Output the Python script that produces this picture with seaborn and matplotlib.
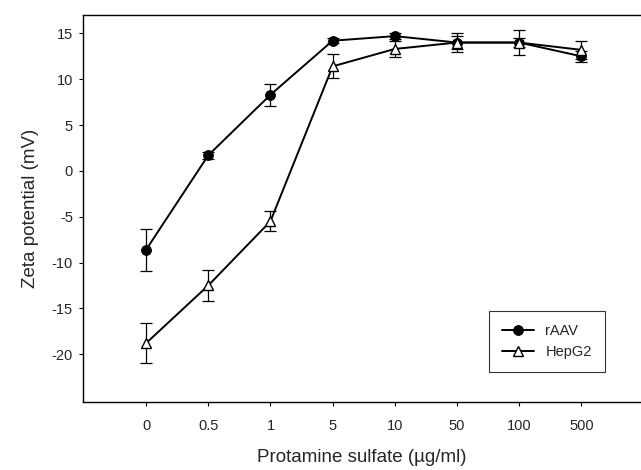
import numpy as np
import pandas as pd
import seaborn as sns
import matplotlib
matplotlib.use("Agg")
import matplotlib.pyplot as plt

# Protamine sulfate concentrations (categorical axis)
conc_labels = ["0", "0.5", "1", "5", "10", "50", "100", "500"]

# Zeta potential (mV) and error bars
raav_mean = [-8.6, 1.7, 8.3, 14.2, 14.7, 14.0, 14.0, 12.5]
raav_err = [2.3, 0.4, 1.2, 0.3, 0.3, 0.7, 0.5, 0.6]
hepg2_mean = [-18.8, -12.5, -5.5, 11.4, 13.3, 14.0, 14.0, 13.2]
hepg2_err = [2.2, 1.7, 1.1, 1.3, 0.9, 1.0, 1.4, 1.0]

pos = np.arange(len(conc_labels))
df = pd.DataFrame({
    "pos": np.concatenate([pos, pos]),
    "zeta": raav_mean + hepg2_mean,
    "err": raav_err + hepg2_err,
    "sample": ["rAAV"] * len(pos) + ["HepG2"] * len(pos),
})

sns.set_style("ticks")
plt.rcParams["font.family"] = ["Liberation Sans", "DejaVu Sans"]
plt.rcParams["axes.unicode_minus"] = False

fig = plt.figure(figsize=(6.41, 4.70), dpi=100)
ax = fig.add_axes([0.129, 0.145, 0.871, 0.823])

styles = {
    "rAAV": dict(marker="o", mfc="black", mec="black", ms=7),
    "HepG2": dict(marker="^", mfc="white", mec="black", ms=7.5, mew=1.0),
}
for name in ["rAAV", "HepG2"]:
    sub = df[df["sample"] == name]
    ax.errorbar(sub["pos"], sub["zeta"], yerr=sub["err"], fmt="none",
                ecolor="black", elinewidth=0.9, capsize=4, capthick=0.9, zorder=2)
    sns.lineplot(data=sub, x="pos", y="zeta", ax=ax, color="black", lw=1.4,
                 label=name, zorder=3, **styles[name])

ax.set_xlim(-1.02, 7.96)
ax.set_ylim(-25.2, 17)
ax.set_xticks(pos)
ax.set_xticklabels(conc_labels)
ax.set_yticks(np.arange(-20, 16, 5))
ax.tick_params(axis="both", labelsize=10.5, length=3, width=0.8, color="black")
ax.tick_params(axis="x", pad=9)
ax.tick_params(axis="y", pad=4)
ax.set_xlabel("Protamine sulfate (\u00b5g/ml)", fontsize=13.5, labelpad=12)
ax.set_ylabel("Zeta potential (mV)", fontsize=13.5, labelpad=9)
for side in ["left", "top", "bottom"]:
    ax.spines[side].set_visible(True)
    ax.spines[side].set_color("black")
    ax.spines[side].set_linewidth(1.0)
ax.spines["right"].set_visible(False)

leg = ax.legend(loc="upper left", bbox_to_anchor=(0.714, 0.255), fontsize=10.5,
                frameon=True, fancybox=False, edgecolor="black",
                handlelength=2.2, borderpad=0.9, labelspacing=0.5)
leg.get_frame().set_linewidth(0.8)

fig.savefig("out.png", dpi=100)
